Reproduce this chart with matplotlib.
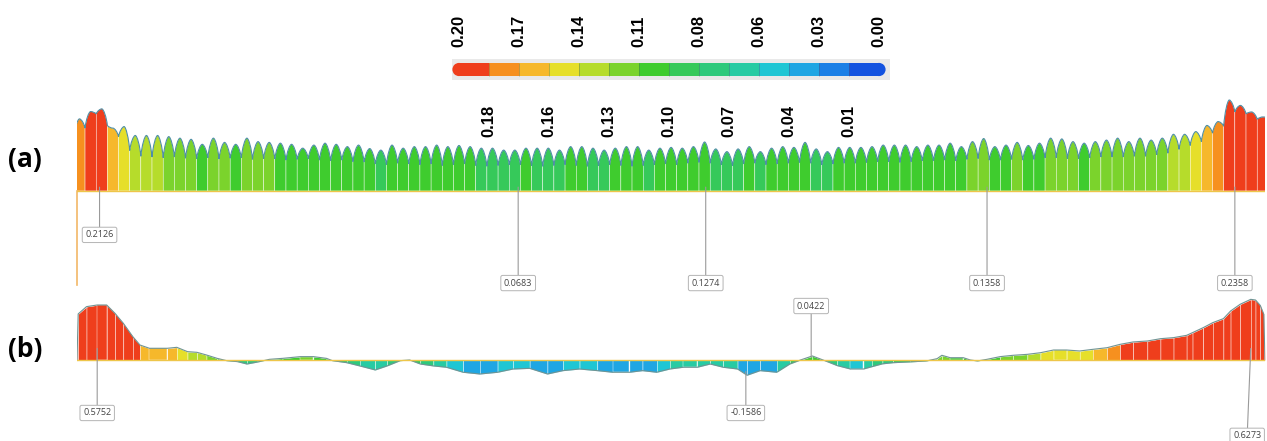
import numpy as np
import matplotlib.pyplot as plt
from matplotlib.colors import ListedColormap, BoundaryNorm
from matplotlib.path import Path
from matplotlib.patches import PathPatch
import matplotlib.transforms as mtransforms

# colour scale (low -> high)
level_colors = ['#1453e0', '#1a7fe6', '#1fa6e3', '#1fc6d4', '#27cba3', '#2ec97c', '#36c95a',
                '#3fcc2e', '#7bd32c', '#b6dc2b', '#e6df2a', '#f6b82b', '#f6901f', '#ef3e1c']
cb_labels = ['0.20', '0.18', '0.17', '0.16', '0.14', '0.13', '0.11', '0.10',
             '0.08', '0.07', '0.06', '0.04', '0.03', '0.01', '0.00']

# (a) peak value of each lobe and the valley between neighbouring lobes
peaks_a = [0.187, 0.206, 0.213, 0.163, 0.167, 0.144, 0.144, 0.144, 0.141, 0.137,
           0.134, 0.121, 0.137, 0.126, 0.121, 0.137, 0.128, 0.126, 0.124, 0.121,
           0.111, 0.119, 0.124, 0.121, 0.115, 0.119, 0.110, 0.106, 0.119, 0.111,
           0.115, 0.115, 0.119, 0.115, 0.118, 0.115, 0.111, 0.111, 0.106, 0.106,
           0.111, 0.111, 0.111, 0.106, 0.115, 0.115, 0.111, 0.106, 0.111, 0.115,
           0.115, 0.106, 0.111, 0.113, 0.111, 0.115, 0.127, 0.109, 0.102, 0.109,
           0.115, 0.102, 0.111, 0.115, 0.113, 0.126, 0.109, 0.102, 0.113, 0.113,
           0.113, 0.115, 0.119, 0.119, 0.119, 0.115, 0.119, 0.119, 0.124, 0.115,
           0.128, 0.136, 0.115, 0.119, 0.126, 0.118, 0.124, 0.137, 0.135, 0.128,
           0.124, 0.128, 0.132, 0.137, 0.128, 0.137, 0.132, 0.137, 0.147, 0.147,
           0.154, 0.170, 0.180, 0.236, 0.222, 0.205, 0.192]
troughs_a = [0.163, 0.200, 0.170, 0.141, 0.105,
             0.090, 0.088, 0.086, 0.088, 0.085, 0.084, 0.086, 0.083, 0.085, 0.086, 0.082,
             0.084, 0.083, 0.080, 0.082, 0.084, 0.080, 0.078, 0.080, 0.076, 0.075,
             0.070, 0.068, 0.072, 0.070, 0.068, 0.070, 0.066, 0.068, 0.070, 0.066, 0.064,
             0.066, 0.068, 0.068, 0.066, 0.064, 0.066, 0.068, 0.066, 0.064, 0.066, 0.068,
             0.066, 0.064, 0.066, 0.068,
             0.070, 0.068, 0.072, 0.074, 0.072, 0.068, 0.066, 0.070, 0.072, 0.068, 0.070,
             0.072, 0.074, 0.072, 0.068, 0.070, 0.072, 0.072, 0.074, 0.076, 0.076, 0.074,
             0.076, 0.078, 0.078, 0.080,
             0.078, 0.082, 0.084, 0.080, 0.080, 0.082, 0.080, 0.082, 0.086, 0.086, 0.084,
             0.084, 0.086, 0.088, 0.088, 0.088, 0.090, 0.090, 0.094, 0.098,
             0.108, 0.118, 0.128, 0.150, 0.168, 0.205, 0.200, 0.186]
start_a, end_a = 0.14, 0.19
tags_a_x = [1.8, 39.3, 56.1, 81.3, 103.5]
tags_a_val = ['0.2126', '0.0683', '0.1274', '0.1358', '0.2358']

# (b) station (% of span) and value
dist_b = [0.0, 0.1, 0.8, 1.7, 2.5, 3.2, 3.9, 4.7, 5.3, 6.1, 7.6, 8.4, 9.3, 10.1, 10.9,
          11.8, 12.6, 13.5, 14.3, 15.2, 16.2, 17.3, 18.8, 19.9, 21.0, 21.5, 22.7, 23.8,
          25.1, 26.1, 27.2, 28.0, 28.9, 30.0, 31.1, 32.5, 33.9, 35.4, 36.7, 38.1, 39.6,
          40.9, 42.3, 43.8, 45.1, 46.5, 47.6, 48.8, 49.9, 51.0, 52.2, 53.3, 54.4, 55.6,
          56.4, 57.5, 58.9, 60.0, 60.9, 61.9, 62.8, 64.0, 65.1, 66.2, 66.9, 67.8, 68.7,
          70.1, 71.5, 72.4, 72.8, 73.5, 74.6, 75.2, 75.8, 76.6, 77.7, 78.8, 80.0, 81.1,
          82.2, 83.3, 84.4, 85.5, 86.7, 87.8, 88.9, 90.1, 91.2, 92.3, 93.4, 93.9, 94.8,
          95.6, 96.5, 97.1, 97.9, 98.8, 99.2, 99.6, 99.9, 100.0]
vals_b = [0.0, 0.48, 0.556, 0.573, 0.573, 0.486, 0.382, 0.243, 0.156, 0.122, 0.122, 0.132,
          0.087, 0.080, 0.052, 0.017, -0.007, -0.017, -0.042, -0.021, 0.007, 0.017, 0.035,
          0.035, 0.017, -0.007, -0.028, -0.062, -0.104, -0.062, -0.007, 0.0, -0.042,
          -0.062, -0.076, -0.128, -0.146, -0.128, -0.094, -0.087, -0.146, -0.111, -0.094,
          -0.111, -0.128, -0.128, -0.111, -0.128, -0.094, -0.076, -0.076, -0.042, -0.076,
          -0.094, -0.159, -0.111, -0.128, -0.042, 0.0, 0.042, 0.0, -0.059, -0.094, -0.094,
          -0.07, -0.04, -0.028, -0.02, -0.01, 0.014, 0.049, 0.024, 0.024, 0.0, -0.01, 0.007,
          0.035, 0.049, 0.059, 0.076, 0.104, 0.104, 0.094, 0.111, 0.128, 0.163, 0.188,
          0.198, 0.222, 0.233, 0.257, 0.285, 0.337, 0.389, 0.431, 0.51, 0.58, 0.632, 0.625,
          0.569, 0.476, 0.0]
tags_b = [(1.7, 0.12, 1.7, -0.552, '0.5752'),
          (61.8, 0.03, 61.8, 0.5625, '0.0422'),
          (56.3, -0.12, 56.3, -0.552, '-0.1586'),
          (98.8, 0.12, 98.5, -0.79, '0.6273')]

W, H = 1267, 441
fig = plt.figure(figsize=(W / 100, H / 100), dpi=100)


def px_axes(x0, y0, x1, y1):
    ax = fig.add_axes([x0 / W, 1 - y1 / H, (x1 - x0) / W, (y1 - y0) / H])
    ax.axis('off')
    return ax


cmap = ListedColormap(level_colors)
cmap.set_over(level_colors[-1])
cmap.set_under(level_colors[0])
norm_a = BoundaryNorm(np.linspace(0, 0.2, 15), cmap.N)
norm_b = BoundaryNorm(np.linspace(-0.2, 0.2, 15), cmap.N)


def tag(ax, x0, y0, x1, y1, text):
    ax.annotate(text, xy=(x0, y0), xytext=(x1, y1), ha='center', va='center',
                fontsize=6.5, color='#444444', family='Open Sans',
                bbox=dict(boxstyle='round,pad=0.35,rounding_size=0.2', fc='white',
                          ec='#b4b4b4', lw=0.7),
                arrowprops=dict(arrowstyle='-', color='#9a9a9a', lw=0.8,
                                shrinkA=0, shrinkB=0),
                annotation_clip=False, zorder=6)


# ---- panel (a)
ax_a = px_axes(77, 95, 1265, 290)
ax_a.set_xlim(-0.22, 106.2)
ax_a.set_ylim(-0.257, 0.249)

left_t = [start_a] + troughs_a
right_t = troughs_a + [end_a]
top_v, top_c = [], []
for k, (p, tl, tr) in enumerate(zip(peaks_a, left_t, right_t)):
    curve = [(k - 0.5, tl), (k - 0.42, tl + 0.5 * (p - tl)), (k - 0.16, p), (k, p),
             (k + 0.16, p), (k + 0.42, tr + 0.5 * (p - tr)), (k + 0.5, tr)]
    verts = [(k - 0.5, 0)] + curve + [(k + 0.5, 0), (k - 0.5, 0)]
    codes = [Path.MOVETO, Path.LINETO] + [Path.CURVE4] * 6 + [Path.LINETO, Path.CLOSEPOLY]
    shade = 0.75 * p + 0.125 * (tl + tr)
    ax_a.add_patch(PathPatch(Path(verts, codes), fc=cmap(norm_a(shade)), ec='white',
                             lw=0.3))
    top_v += curve
    top_c += [Path.MOVETO if k == 0 else Path.LINETO] + [Path.CURVE4] * 6
ax_a.add_patch(PathPatch(Path(top_v, top_c), fill=False, ec='#4f8fa6', lw=0.8, zorder=3))
ax_a.axhline(0, color='#eec64a', lw=1.0, zorder=4)
ax_a.plot([-0.22, -0.22], [0, -0.245], color='#f2b867', lw=1.2, clip_on=False)
for x, v in zip(tags_a_x, tags_a_val):
    y = -0.114 if v == '0.2126' else -0.239
    tag(ax_a, x, 0.01, x, y, v)

# ---- panel (b)
ax_b = px_axes(77, 293, 1265, 441)
ax_b.set_xlim(0, 100)
ax_b.set_ylim(-0.844, 0.698)
for i in range(len(dist_b) - 1):
    xs = dist_b[i:i + 2]
    ys = vals_b[i:i + 2]
    ax_b.fill_between(xs, ys, 0, fc=cmap(norm_b(np.mean(ys))), ec='white', lw=0.3)
ax_b.plot(dist_b, vals_b, color='#6f9494', lw=0.8, zorder=3)
ax_b.axhline(0, color='#eec64a', lw=1.0, zorder=4)
for x0, y0, x1, y1, v in tags_b:
    tag(ax_b, x0, y0, x1, y1, v)

# ---- colour legend
ax_cb = px_axes(452, 59, 890, 80)
ax_cb.axis('on')
for s in ax_cb.spines.values():
    s.set_visible(False)
ax_cb.set_xticks([])
ax_cb.set_yticks([])
ax_cb.set_facecolor('#e9e9e9')
ax_cb.set_xlim(0.20333, -0.00524)
ax_cb.set_ylim(0, 1)
bounds = np.linspace(0.2, 0, 15)
ax_cb.scatter([0.2, 0.0], [0.5, 0.5], s=90, c=[level_colors[-1], level_colors[0]],
              lw=0, zorder=1, clip_on=False)
for i in range(14):
    ax_cb.barh(0.5, bounds[i + 1] - bounds[i], left=bounds[i], height=0.62,
               color=level_colors[13 - i], lw=0, zorder=2)
ax_cb.vlines(bounds[1:-1], 0.19, 0.81, color='#5a5a5a', lw=0.5, alpha=0.5, zorder=3)
tr = mtransforms.blended_transform_factory(ax_cb.transData, fig.transFigure)
for i, (b, lab) in enumerate(zip(bounds, cb_labels)):
    if i % 2 == 0:
        fig.text(b, 1 - 47 / H, lab, transform=tr, rotation=90, ha='center', va='bottom',
                 fontsize=12, fontweight='bold', family='Liberation Sans')
    else:
        fig.text(b, 1 - 105 / H, lab, transform=tr, rotation=90, ha='center', va='top',
                 fontsize=12, fontweight='bold', family='Liberation Sans', zorder=10)

fig.text(25 / W, 1 - 160 / H, '(a)', fontsize=19, fontweight='bold', family='Open Sans',
         ha='center', va='center')
fig.text(25 / W, 1 - 350 / H, '(b)', fontsize=19, fontweight='bold', family='Open Sans',
         ha='center', va='center')

fig.savefig('out.png', dpi=100)
